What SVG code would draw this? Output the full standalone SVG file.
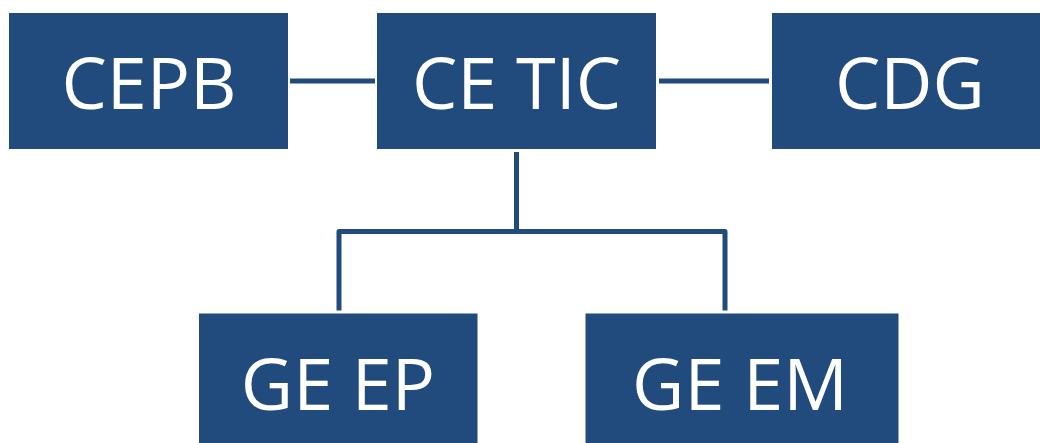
<svg xmlns="http://www.w3.org/2000/svg" width="1040" height="443" viewBox="0 0 1040 443">
<style>
.box{fill:#214A7D}
.lbl{fill:#FFFFFF;font-family:"Open Sans","Noto Sans",sans-serif;font-size:72px;text-anchor:middle}
.conn{stroke:#214A7D;stroke-width:5;fill:none;stroke-linejoin:round}
</style>
<rect width="1040" height="443" fill="#FFFFFF"/>
<g id="connectors">
<line class="conn" x1="290" y1="81" x2="375" y2="81"/>
<line class="conn" x1="659" y1="81" x2="769" y2="81"/>
<line class="conn" x1="516.5" y1="152" x2="516.5" y2="231.5"/>
<polyline class="conn" points="339,310.5 339,231.5 725,231.5 725,310.5"/>
</g>
<g id="node-cepb">
<rect class="box" x="9" y="13" width="279" height="136"/>
<text class="lbl" x="149" y="109">CEPB</text>
</g>
<g id="node-cetic">
<rect class="box" x="377" y="13" width="279" height="136"/>
<text class="lbl" x="516.5" y="109">CE TIC</text>
</g>
<g id="node-cdg">
<rect class="box" x="772" y="13" width="279" height="136"/>
<text class="lbl" x="910" y="109">CDG</text>
</g>
<g id="node-geep">
<rect class="box" x="199" y="313.5" width="278.5" height="140"/>
<text class="lbl" x="338" y="410">GE EP</text>
</g>
<g id="node-geem">
<rect class="box" x="585.5" y="313.5" width="313" height="140"/>
<text class="lbl" x="740" y="410">GE EM</text>
</g>
</svg>
